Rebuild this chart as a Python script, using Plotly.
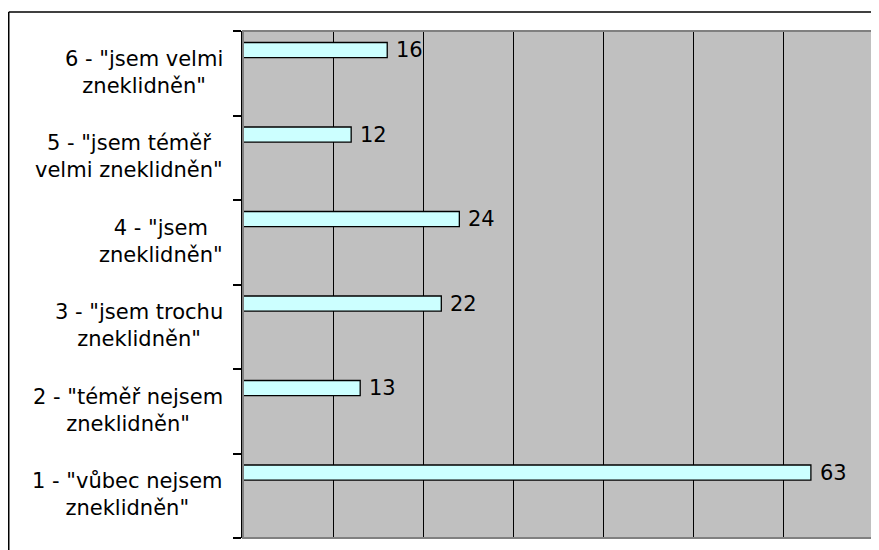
import plotly.graph_objects as go

categories = [
    '1 - "vůbec nejsem<br>zneklidněn"',
    '2 - "téměř nejsem<br>zneklidněn"',
    '3 - "jsem trochu<br>zneklidněn"',
    '4 - "jsem<br>zneklidněn"',
    '5 - "jsem téměř<br>velmi zneklidněn"',
    '6 - "jsem velmi<br>zneklidněn"',
]
values = [63, 13, 22, 24, 12, 16]

FONT = "DejaVu Sans, Liberation Sans, Arial, sans-serif"
BAR_OFFSET = 0.186
BAR_WIDTH = 0.178

positions = list(range(len(categories)))

fig = go.Figure()
fig.add_trace(go.Bar(
    x=values,
    y=positions,
    orientation="h",
    width=BAR_WIDTH,
    offset=BAR_OFFSET,
    marker=dict(color="#CCFFFF", line=dict(color="#000000", width=1.3)),
    hoverinfo="skip",
))

annotations = []
for i, (cat, v) in enumerate(zip(categories, values)):
    annotations.append(dict(
        x=0, xref="paper", y=i, yref="y",
        text=cat, showarrow=False, xanchor="right", yanchor="middle",
        align="center", xshift=-18, yshift=1,
        font=dict(family=FONT, size=21, color="#000000"),
    ))
    annotations.append(dict(
        x=v, xref="x", y=i + BAR_OFFSET + BAR_WIDTH / 2, yref="y",
        text=str(v), showarrow=False, xanchor="left", yanchor="middle",
        xshift=7,
        font=dict(family=FONT, size=21, color="#000000"),
    ))

# page body has an 8px default margin; the figure is sized to fill the rest
W, H = 871, 542
ml, mr, mt, mb = 235, 5, 23, 12
pw, ph = W - ml - mr, H - mt - mb
fx0 = (0.75 - ml) / pw
fy0 = (H - mb - 4) / ph

shapes = [
    # plot area border (gray)
    dict(type="rect", xref="paper", yref="paper", x0=0, x1=1, y0=0, y1=1,
         line=dict(color="#808080", width=2), layer="above"),
    # outer chart frame (left and top edges visible)
    dict(type="line", xref="paper", yref="paper", x0=fx0, x1=fx0, y0=-0.2, y1=fy0,
         line=dict(color="#000000", width=1.5)),
    dict(type="line", xref="paper", yref="paper", x0=fx0, x1=1.2, y0=fy0, y1=fy0,
         line=dict(color="#000000", width=1.5)),
]

fig.update_layout(
    width=W, height=H,
    margin=dict(l=ml, r=mr, t=mt, b=mb),
    paper_bgcolor="#FFFFFF",
    plot_bgcolor="#C0C0C0",
    showlegend=False,
    annotations=annotations,
    shapes=shapes,
    xaxis=dict(range=[0, 70], dtick=10, tick0=0, showgrid=True, gridcolor="#000000",
               gridwidth=1, showticklabels=False, ticks="", zeroline=False,
               showline=False, fixedrange=True),
    yaxis=dict(range=[-0.5, len(categories) - 0.5], tickmode="array",
               tickvals=[p - 0.5 for p in positions] + [len(categories) - 0.5],
               ticktext=[""] * (len(categories) + 1),
               ticks="outside", ticklen=8, tickcolor="#000000", tickwidth=1.5,
               showgrid=False, zeroline=False, showline=True, linecolor="#000000",
               linewidth=2, fixedrange=True),
)

fig.write_html("out.html")
